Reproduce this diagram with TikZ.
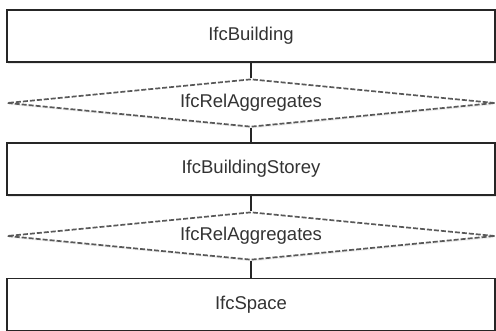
\documentclass[tikz,border=0pt]{standalone}
\usepackage{fontspec}
\setmainfont{Liberation Sans}
\usetikzlibrary{shapes.geometric,shadows}
\begin{document}
\begin{tikzpicture}[x=1pt,y=-1pt,
  entbox/.style={draw=black!85, line width=1.3pt, fill=white, rectangle,
    minimum width=488pt, minimum height=52pt, inner sep=0pt,
    font=\fontsize{18.5}{22}\selectfont, text=black!80,
    drop shadow={opacity=0.18, shadow xshift=1.2pt, shadow yshift=-1.8pt}},
  relbox/.style={draw=black!65, line width=1.7pt, dash pattern=on 5pt off 2pt,
    fill=white, diamond, shape aspect=10,
    minimum width=488pt, minimum height=48pt, inner sep=0pt,
    font=\fontsize{18.5}{22}\selectfont, text=black!80,
    drop shadow={opacity=0.12, shadow xshift=1.2pt, shadow yshift=-1.8pt}},
  link/.style={draw=black!85, line width=1.3pt}]
\useasboundingbox (0,0) rectangle (496,331);
\node[entbox] (b1) at (251,36) {IfcBuilding};
\node[relbox] (r1) at (251,103) {IfcRelAggregates};
\node[entbox] (b2) at (251,169) {IfcBuildingStorey};
\node[relbox] (r2) at (251,236) {IfcRelAggregates};
\node[entbox] (b3) at (251,304.5) {IfcSpace};
\draw[link] (b1.south) -- (r1.north);
\draw[link] (r1.south) -- (b2.north);
\draw[link] (b2.south) -- (r2.north);
\draw[link] (r2.south) -- (b3.north);
\end{tikzpicture}
\end{document}
